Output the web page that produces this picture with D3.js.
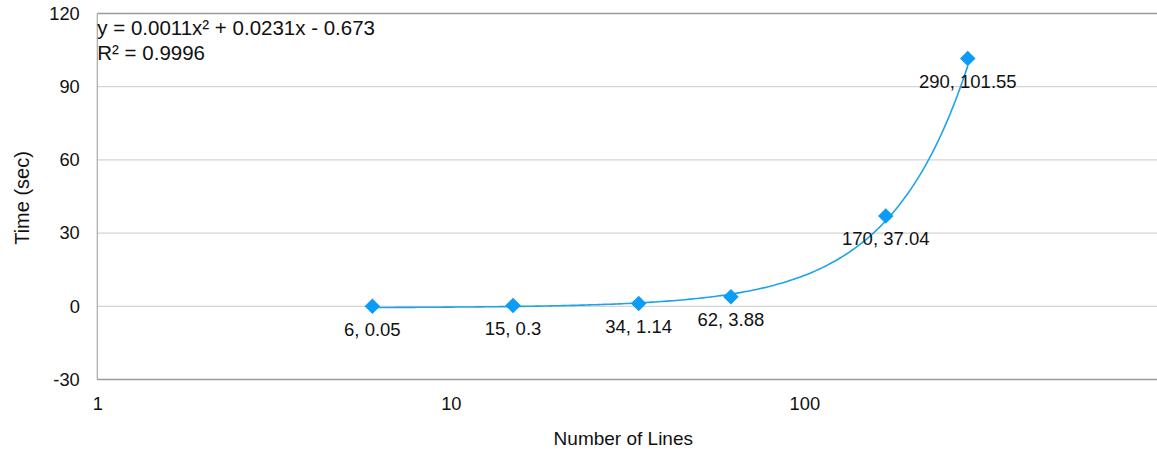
<!DOCTYPE html>
<html>
<head>
<meta charset="utf-8">
<script src="https://cdn.jsdelivr.net/npm/d3@7"></script>
<style>
  html, body { margin: 0; padding: 0; background: #fff; }
  svg { display: block; font-family: "Liberation Sans", Arial, Helvetica, sans-serif; }
</style>
</head>
<body>
<svg id="chart" width="1157" height="453"></svg>
<script>
// Run time against program size
const lines = [6, 15, 34, 62, 170, 290];
const seconds = [0.05, 0.3, 1.14, 3.88, 37.04, 101.55];
const xTicks = [1, 10, 100];
const yTicks = [-30, 0, 30, 60, 90, 120];
// quadratic fit: y = a x^2 + b x + c
const fitCoef = [0.0011, 0.0231, -0.673];
const fitLabel = ["y = 0.0011x\u00B2 + 0.0231x - 0.673", "R\u00B2 = 0.9996"];

const W = 1157, H = 453;
const plotLeft = 97.3, plotTop = 13.5, plotBottom = 379.5, decade = 353.5;

const svg = d3.select("#chart");
const x = d3.scaleLog().domain([1, 1000]).range([plotLeft, plotLeft + 3 * decade]);
const y = d3.scaleLinear().domain([-30, 120]).range([plotBottom, plotTop]);

// horizontal gridlines
svg.append("g")
  .selectAll("line")
  .data(yTicks)
  .join("line")
  .attr("x1", plotLeft).attr("x2", W)
  .attr("y1", d => y(d)).attr("y2", d => y(d))
  .attr("stroke", d => (d === 120 || d === -30) ? "#9a9a9a" : "#d4d4d4")
  .attr("stroke-width", d => (d === 120 || d === -30) ? 1.5 : 1.3);

// left axis line
svg.append("line")
  .attr("x1", plotLeft).attr("x2", plotLeft)
  .attr("y1", plotTop).attr("y2", plotBottom)
  .attr("stroke", "#a8a8a8").attr("stroke-width", 1.2);

// y axis
const yAxis = d3.axisLeft(y).tickValues(yTicks).tickFormat(d => String(d)).tickSize(0).tickPadding(17.5);
const gy = svg.append("g").attr("transform", `translate(${plotLeft},0)`).call(yAxis);
gy.select(".domain").remove();
gy.selectAll("text")
  .attr("font-size", 18.3).attr("fill", "#111")
  .style("font-family", "inherit");

// x axis
const xAxis = d3.axisBottom(x).tickValues(xTicks).tickFormat(d => String(d)).tickSize(0).tickPadding(17.5);
const gx = svg.append("g").attr("transform", `translate(0,${plotBottom})`).call(xAxis);
gx.select(".domain").remove();
gx.selectAll("text")
  .attr("font-size", 18.3).attr("fill", "#111")
  .style("font-family", "inherit");

// axis titles
svg.append("text")
  .attr("x", 623.3).attr("y", 445)
  .attr("text-anchor", "middle")
  .attr("font-size", 19).attr("fill", "#111")
  .text("Number of Lines");

svg.append("text")
  .attr("transform", "translate(28.5,198) rotate(-90)")
  .attr("text-anchor", "middle")
  .attr("font-size", 20).attr("fill", "#111")
  .text("Time (sec)");

// trend curve from the fitted polynomial
const poly = v => fitCoef[0] * v * v + fitCoef[1] * v + fitCoef[2];
const lo = d3.min(lines), hi = d3.max(lines);
const samples = d3.range(0, 201).map(i => lo * Math.pow(hi / lo, i / 200));
svg.append("path")
  .datum(samples)
  .attr("fill", "none")
  .attr("stroke", "#1fa3e8")
  .attr("stroke-width", 1.6)
  .attr("d", d3.line().x(d => x(d)).y(d => y(poly(d))));

// markers
const pts = lines.map((v, i) => ({ n: v, t: seconds[i] }));
svg.append("g")
  .selectAll("path")
  .data(pts)
  .join("path")
  .attr("d", d3.symbol().type(d3.symbolSquare).size(121))
  .attr("transform", d => `translate(${x(d.n)},${y(d.t)}) rotate(45)`)
  .attr("fill", "#0a9cf7");

// data labels
svg.append("g")
  .selectAll("text")
  .data(pts)
  .join("text")
  .attr("x", d => x(d.n))
  .attr("y", d => y(d.t) + 29.5)
  .attr("text-anchor", "middle")
  .attr("font-size", 18.5).attr("fill", "#111")
  .text(d => `${d.n}, ${d.t}`);

// fit equation
const eq = svg.append("text").attr("font-size", 20.5).attr("fill", "#111");
fitLabel.forEach((s, i) => {
  eq.append("tspan").attr("x", plotLeft).attr("y", 35 + i * 25).text(s);
});
</script>
</body>
</html>
